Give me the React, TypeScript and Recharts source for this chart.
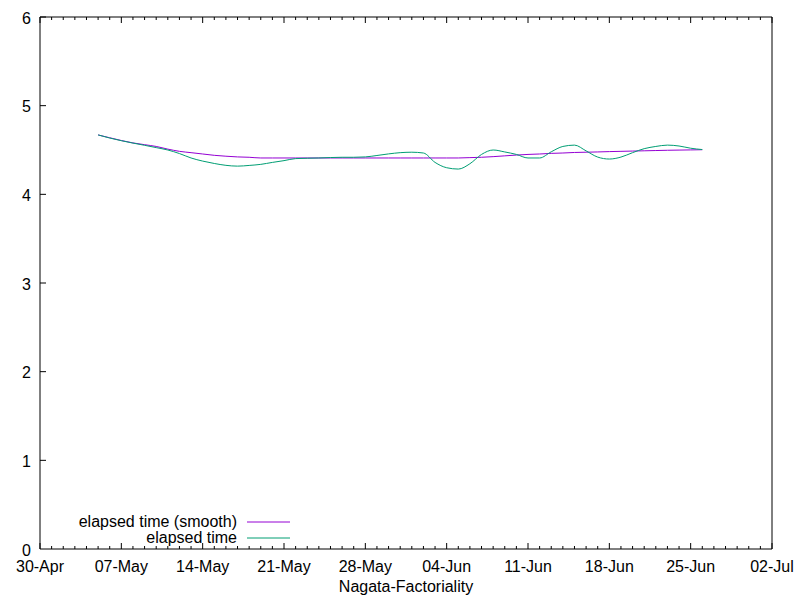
import React from 'react';
import { LineChart, Line, XAxis, YAxis, Legend } from 'recharts';

// days counted from 30-Apr (day 0)
const days = [5,6,7,8,9,10,11,12,13,14,15,16,17,18,19,20,21,22,23,24,25,26,27,28,29,30,31,32,33,34,35,36,37,38,39,40,41,42,43,44,45,46,47,48,49,50,51,52,53,54,55,56,57];

const elapsedValues = [4.67,4.635,4.605,4.578,4.553,4.527,4.5,4.46,4.41,4.375,4.348,4.327,4.318,4.326,4.338,4.36,4.38,4.403,4.407,4.41,4.415,4.418,4.418,4.422,4.438,4.456,4.47,4.475,4.466,4.36,4.3,4.285,4.345,4.45,4.5,4.478,4.45,4.41,4.41,4.48,4.54,4.555,4.49,4.42,4.398,4.42,4.47,4.515,4.54,4.555,4.545,4.52,4.505];

const smoothValues = [4.67,4.638,4.607,4.58,4.56,4.54,4.51,4.485,4.47,4.455,4.44,4.43,4.422,4.418,4.41,4.41,4.41,4.41,4.41,4.41,4.41,4.41,4.41,4.41,4.41,4.41,4.41,4.41,4.41,4.41,4.41,4.41,4.414,4.418,4.425,4.434,4.443,4.45,4.455,4.462,4.466,4.472,4.475,4.478,4.482,4.485,4.488,4.491,4.494,4.497,4.499,4.501,4.503];

const seriesNames = ['elapsed time (smooth)', 'elapsed time'];
const xTickLabels = ['30-Apr','07-May','14-May','21-May','28-May','04-Jun','11-Jun','18-Jun','25-Jun','02-Jul'];
const xTicks = Array.from({ length: 64 }, (_, i) => i);
const yTicks = [0, 1, 2, 3, 4, 5, 6];

const data = days.map((d, i) => ({ day: d, smooth: smoothValues[i], elapsed: elapsedValues[i] }));

const FONT = '"Liberation Sans", Arial, sans-serif';

const BottomTick = (props: any) => {
  const { x, y, payload } = props;
  const v = payload.value;
  const major = v % 7 === 0;
  return (
    <g>
      <line x1={x} x2={x} y1={y} y2={y - (major ? 6 : 3)} stroke="#000" strokeWidth={1} />
      {major && (
        <text x={x} y={y + 22.5} textAnchor="middle" fontSize={16} fill="#000" fontFamily={FONT}>
          {xTickLabels[v / 7]}
        </text>
      )}
    </g>
  );
};

const TopTick = (props: any) => {
  const { x, y, payload } = props;
  const major = payload.value % 7 === 0;
  return <line x1={x} x2={x} y1={y} y2={y + (major ? 6 : 3)} stroke="#000" strokeWidth={1} />;
};

const LeftTick = (props: any) => {
  const { x, y, payload } = props;
  const v = payload.value;
  return (
    <g>
      {v > 0 && <line x1={x} x2={x + 6} y1={y} y2={y} stroke="#000" strokeWidth={1} />}
      <text x={x - 9} y={y + 6.8} textAnchor="end" fontSize={16} fill="#000" fontFamily={FONT}>
        {v}
      </text>
    </g>
  );
};

const RightTick = (props: any) => {
  const { x, y, payload } = props;
  const v = payload.value;
  if (v === 0) return <g />;
  return <line x1={x} x2={x - 6} y1={y} y2={y} stroke="#000" strokeWidth={1} />;
};

const XTitle = (props: any) => {
  const vb = props.viewBox || { x: 40, y: 549, width: 732, height: 1 };
  return (
    <text x={vb.x + vb.width / 2} y={vb.y + 42.5} textAnchor="middle" fontSize={16} fill="#000" fontFamily={FONT}>
      Nagata-Factoriality
    </text>
  );
};

const KeyContent = (props: any) => {
  const payload = [...(props.payload || [])].sort(
    (a: any, b: any) => seriesNames.indexOf(a.value) - seriesNames.indexOf(b.value)
  );
  return (
    <svg width={240} height={45} style={{ display: 'block' }}>
      {payload.map((p: any, i: number) => (
        <g key={i}>
          <text x={177} y={22 + i * 16} textAnchor="end" fontSize={16} fill="#000" fontFamily={FONT}>
            {p.value}
          </text>
          <line x1={187} x2={230} y1={17 + i * 16} y2={17 + i * 16} stroke={p.color} strokeWidth={1} />
        </g>
      ))}
    </svg>
  );
};

export default function App() {
  return (
    <div style={{ position: 'absolute', left: 0, top: 0, width: 800, height: 600, background: '#fff', fontFamily: FONT }}>
      <LineChart width={800} height={600} data={data} margin={{ top: 16, right: 27, bottom: 50, left: 39 }}>
        <XAxis
          dataKey="day"
          type="number"
          domain={[0, 63]}
          ticks={xTicks}
          interval={0}
          height={1}
          tickSize={0}
          tickMargin={0}
          tickLine={false}
          axisLine={{ stroke: '#000' }}
          tick={<BottomTick />}
          label={<XTitle />}
        />
        <XAxis
          xAxisId="top"
          orientation="top"
          dataKey="day"
          type="number"
          domain={[0, 63]}
          ticks={xTicks}
          interval={0}
          height={1}
          tickSize={0}
          tickMargin={0}
          tickLine={false}
          axisLine={{ stroke: '#000' }}
          tick={<TopTick />}
        />
        <YAxis
          type="number"
          domain={[0, 6]}
          ticks={yTicks}
          interval={0}
          width={1}
          tickSize={0}
          tickMargin={0}
          tickLine={false}
          axisLine={{ stroke: '#000' }}
          tick={<LeftTick />}
        />
        <YAxis
          yAxisId="right"
          orientation="right"
          type="number"
          domain={[0, 6]}
          ticks={yTicks}
          interval={0}
          width={1}
          tickSize={0}
          tickMargin={0}
          tickLine={false}
          axisLine={{ stroke: '#000' }}
          tick={<RightTick />}
        />
        <Legend
          layout="vertical"
          align="center"
          verticalAlign="middle"
          itemSorter={null as any}
          wrapperStyle={{ left: 60, top: 505, width: 240, height: 45 }}
          content={<KeyContent />}
        />
        <Line
          name="elapsed time (smooth)"
          dataKey="smooth"
          type="monotone"
          stroke="#9400d3"
          strokeWidth={1}
          dot={false}
          activeDot={false}
          isAnimationActive={false}
        />
        <Line
          name="elapsed time"
          dataKey="elapsed"
          type="monotone"
          stroke="#009e73"
          strokeWidth={1}
          dot={false}
          activeDot={false}
          isAnimationActive={false}
        />
      </LineChart>
    </div>
  );
}
